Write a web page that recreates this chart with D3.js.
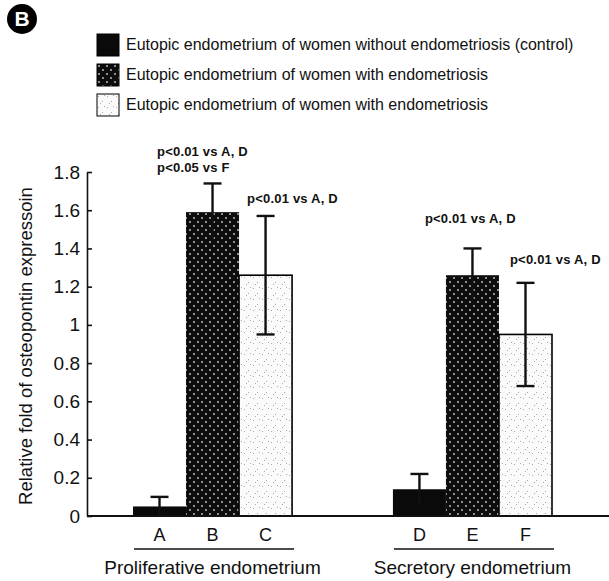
<!DOCTYPE html>
<html>
<head>
<meta charset="utf-8">
<script src="https://cdn.jsdelivr.net/npm/d3@7"></script>
<style>
  html, body { margin: 0; padding: 0; background: #fff; }
  svg { display: block; font-family: "Liberation Sans", Arial, sans-serif; }
</style>
</head>
<body>
<div id="chart"></div>
<script>
// Osteopontin expression, panel B: three tissue series in two cycle phases.

const groups = ["Proliferative endometrium", "Secretory endometrium"];
const series = ["control", "eutopic", "eutopic2"];
const barLetters = [["A", "B", "C"], ["D", "E", "F"]];
const means = [[0.05, 1.59, 1.26], [0.14, 1.26, 0.95]];
const errors = [[0.05, 0.15, 0.31], [0.08, 0.14, 0.27]];
const legendLabels = [
  "Eutopic endometrium of women without endometriosis (control)",
  "Eutopic endometrium of women with endometriosis",
  "Eutopic endometrium of women with endometriosis",
];
const yTicks = [0, 0.2, 0.4, 0.6, 0.8, 1, 1.2, 1.4, 1.6, 1.8];
const notes = [
  { bar: "B", lines: ["p<0.01 vs A, D", "p<0.05 vs F"] },
  { bar: "C", lines: ["p<0.01 vs A, D"] },
  { bar: "E", lines: ["p<0.01 vs A, D"] },
  { bar: "F", lines: ["p<0.01 vs A, D"] },
];

const W = 609, H = 581;
const AXIS_X = 87;
const INK = "#111";

const svg = d3.select("#chart").append("svg")
  .attr("width", W).attr("height", H).attr("viewBox", [0, 0, W, H]);

const defs = svg.append("defs");

// dark cross-hatch: black with small pale x flecks
const dark = defs.append("pattern").attr("id", "dark")
  .attr("patternUnits", "userSpaceOnUse").attr("width", 8).attr("height", 8);
dark.append("rect").attr("width", 8).attr("height", 8).attr("fill", "#0d0d0d");
dark.append("path").attr("d", "M1,1l2,2M3,1l-2,2M5,5l2,2M7,5l-2,2")
  .attr("stroke", "#c4c4c4").attr("stroke-width", 0.7);

// light stipple
const light = defs.append("pattern").attr("id", "light")
  .attr("patternUnits", "userSpaceOnUse").attr("width", 9).attr("height", 11);
light.append("rect").attr("width", 9).attr("height", 11).attr("fill", "#fbfbfb");
[[1, 2], [5, 7], [7, 1], [3, 9]].forEach(([cx, cy]) =>
  light.append("rect").attr("x", cx).attr("y", cy).attr("width", 1).attr("height", 1).attr("fill", "#aaa"));

const fills = { control: "#0a0a0a", eutopic: "url(#dark)", eutopic2: "url(#light)" };

const y = d3.scaleLinear().domain([0, 1.8]).range([516, 172]);
const x0 = d3.scaleBand().domain(groups).range([133, 552]).paddingInner(0.388);
const x1 = d3.scaleBand().domain(series).range([0, x0.bandwidth()]);

const bars = [];
groups.forEach((g, gi) => series.forEach((s, si) => bars.push({
  group: g, series: s, letter: barLetters[gi][si], value: means[gi][si], err: errors[gi][si],
  x: x0(g) + x1(s),
})));

// badge
svg.append("circle").attr("cx", 22).attr("cy", 19).attr("r", 15).attr("fill", "#000");
svg.append("text").attr("x", 22).attr("y", 26).attr("text-anchor", "middle")
  .attr("fill", "#fff").style("font-size", "21px").style("font-weight", "bold").text("B");

// legend
const legend = svg.append("g").attr("transform", "translate(97,34)");
series.forEach((s, i) => {
  const row = legend.append("g").attr("transform", `translate(0,${i * 30})`);
  row.append("rect").attr("width", 22).attr("height", 22)
    .attr("fill", fills[s]).attr("stroke", "#000").attr("stroke-width", 1);
  row.append("text").attr("x", 29).attr("y", 16).style("font-size", "16px")
    .attr("fill", INK).text(legendLabels[i]);
});

// bars
svg.append("g").selectAll("rect").data(bars).join("rect")
  .attr("x", d => d.x).attr("width", x1.bandwidth())
  .attr("y", d => y(d.value)).attr("height", d => y(0) - y(d.value))
  .attr("fill", d => fills[d.series])
  .attr("stroke", d => d.series === "eutopic2" ? "#000" : "none")
  .attr("stroke-width", 1.6);

// error bars
const eb = svg.append("g").attr("stroke", INK).attr("stroke-width", 2.4);
bars.forEach(d => {
  const cx = d.x + x1.bandwidth() / 2;
  eb.append("line").attr("x1", cx).attr("x2", cx)
    .attr("y1", y(d.value - d.err)).attr("y2", y(d.value + d.err));
  eb.append("line").attr("x1", cx - 9).attr("x2", cx + 9)
    .attr("y1", y(d.value + d.err)).attr("y2", y(d.value + d.err));
  if (d.series === "eutopic2") {
    eb.append("line").attr("x1", cx - 9).attr("x2", cx + 9)
      .attr("y1", y(d.value - d.err)).attr("y2", y(d.value - d.err));
  }
});

// y axis (ticks point inward)
svg.append("g").attr("transform", `translate(${AXIS_X},0)`)
  .call(d3.axisLeft(y).tickValues(yTicks).tickFormat(d3.format("~g"))
    .tickSizeInner(-5).tickSizeOuter(0).tickPadding(7))
  .call(g => g.selectAll("path, line").attr("stroke", INK).attr("stroke-width", 1.6))
  .call(g => g.selectAll("text").attr("fill", INK)
    .style("font-size", "19px").style("font-family", "'Liberation Sans', Arial, sans-serif"));

// baseline
svg.append("line").attr("x1", AXIS_X).attr("x2", W).attr("y1", y(0)).attr("y2", y(0))
  .attr("stroke", INK).attr("stroke-width", 1.8);

// y title
svg.append("text").attr("transform", `translate(32,${(y(0) + y(1.8)) / 2 + 2}) rotate(-90)`)
  .attr("text-anchor", "middle").style("font-size", "18.5px").attr("fill", INK)
  .text("Relative fold of osteopontin expressoin");

// bar letters
svg.append("g").selectAll("text").data(bars).join("text")
  .attr("x", d => d.x + x1.bandwidth() / 2).attr("y", 541)
  .attr("text-anchor", "middle").style("font-size", "18px").attr("fill", INK)
  .text(d => d.letter);

// group underline and names
groups.forEach(g => {
  svg.append("line").attr("x1", x0(g) + 1).attr("x2", x0(g) + x0.bandwidth() + 2)
    .attr("y1", 549).attr("y2", 549).attr("stroke", INK).attr("stroke-width", 1.4);
  svg.append("text").attr("x", x0(g) + x0.bandwidth() / 2).attr("y", 574)
    .attr("text-anchor", "middle").style("font-size", "19px").attr("fill", INK).text(g);
});

// significance notes, placed relative to each bar's error cap
const noteOffset = { B: [-29, -11], C: [8, -13], E: [-21, -25], F: [11, -19] };
notes.forEach(n => {
  const d = bars.find(b => b.letter === n.bar);
  const top = y(d.value + d.err);
  const [dx, dy] = noteOffset[n.bar];
  n.lines.forEach((line, i) => {
    svg.append("text").attr("x", d.x + dx)
      .attr("y", top + dy - (n.lines.length - 1 - i) * 16)
      .style("font-size", "13px").style("font-weight", "bold")
      .style("letter-spacing", "0.2px").attr("fill", INK)
      .text(line);
  });
});
</script>
</body>
</html>
